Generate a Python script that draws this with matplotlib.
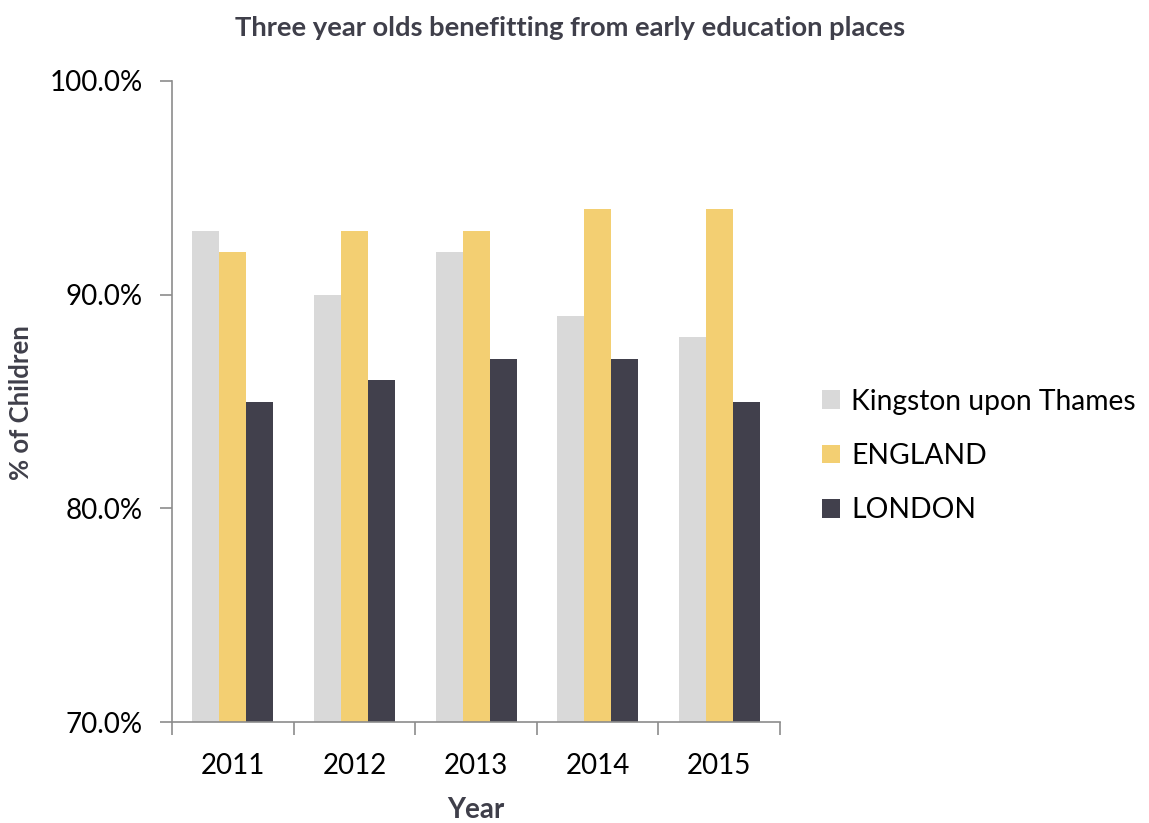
import matplotlib.pyplot as plt
import numpy as np
from matplotlib.ticker import FuncFormatter, FixedLocator

years = ["2011", "2012", "2013", "2014", "2015"]
kingston = [93, 90, 92, 89, 88]
england = [92, 93, 93, 94, 94]
london = [85, 86, 87, 87, 85]

series_names = ["Kingston upon Thames", "ENGLAND", "LONDON"]
series_colors = ["#D9D9D9", "#F3CF72", "#41404C"]

plt.rcParams["font.family"] = ["Lato", "DejaVu Sans"]

fig = plt.figure(figsize=(11.49, 8.23), dpi=100)
ax = fig.add_axes([0.1497, 0.1227, 0.5292, 0.7789])

x = np.arange(len(years))
width = 0.222
for i, (vals, name, col) in enumerate(zip([kingston, england, london], series_names, series_colors)):
    ax.bar(x + (i - 1) * width, vals, width, color=col, label=name, zorder=2)

ax.set_ylim(70, 100)
ax.set_xlim(-0.5, len(years) - 0.5)
ax.set_yticks([70, 80, 90, 100])
ax.yaxis.set_major_formatter(FuncFormatter(lambda v, _: f"{v:.1f}%"))

# category labels centred, tick marks on the group boundaries
ax.set_xticks(x)
ax.set_xticklabels(years)
ax.xaxis.set_minor_locator(FixedLocator(np.arange(-0.5, len(years), 1.0)))
ax.tick_params(axis="x", which="major", length=0, labelsize=20, pad=22)
ax.tick_params(axis="x", which="minor", length=9, width=1.2, color="#8C8C8C", direction="out")
ax.tick_params(axis="y", length=9, width=1.2, color="#8C8C8C", direction="out", labelsize=20, pad=12)

for side in ["top", "right"]:
    ax.spines[side].set_visible(False)
for side in ["left", "bottom"]:
    ax.spines[side].set_color("#8C8C8C")
    ax.spines[side].set_linewidth(1.2)

ax.set_xlabel("Year", fontsize=20, fontweight="bold", color="#3F3F4A")
ax.set_ylabel("% of Children", fontsize=18.5, fontweight="bold", color="#3F3F4A")
ax.xaxis.set_label_coords(0.50, -0.117)
ax.yaxis.set_label_coords(-0.229, 0.498)
fig.text(0.496, 0.966, "Three year olds benefitting from early education places",
         ha="center", va="center", fontsize=19.7, fontweight="bold", color="#3F3F4A")

fig.legend(loc="center left", bbox_to_anchor=(0.693, 0.446), frameon=False,
           fontsize=20.3, handlelength=0.65, handleheight=0.65, handletextpad=0.4,
           labelspacing=1.0)

fig.savefig("out.png", dpi=100)
